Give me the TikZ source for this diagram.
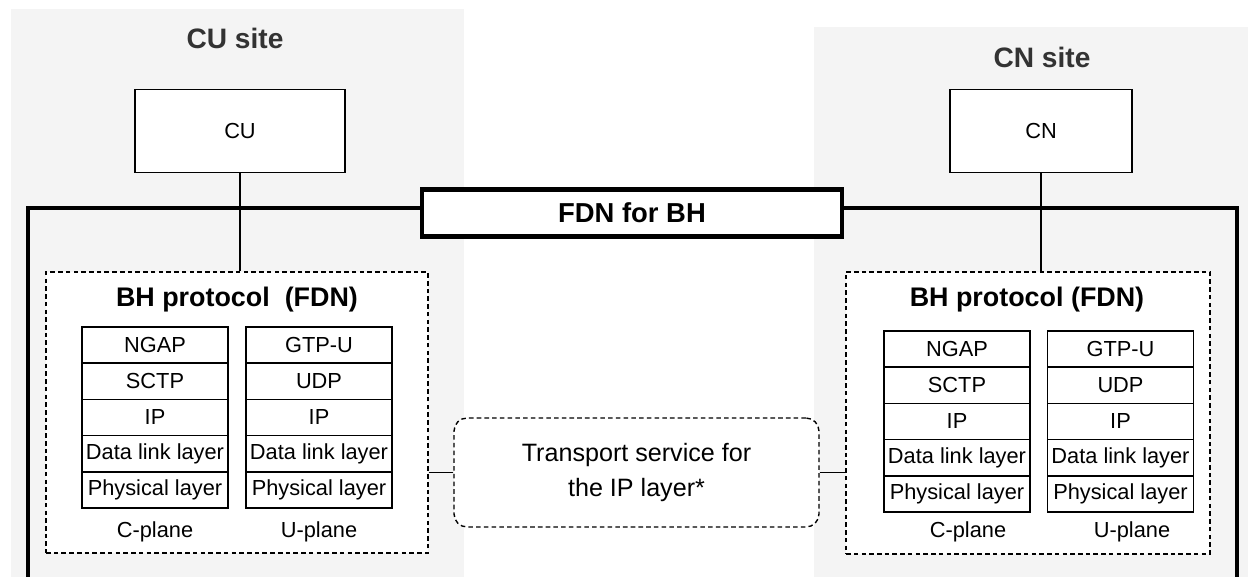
\documentclass[tikz,border=0pt]{standalone}
\usepackage{fontspec}
\setmainfont{Liberation Sans}
\usetikzlibrary{positioning}
\definecolor{sitegray}{HTML}{F4F4F4}
\definecolor{titlegray}{HTML}{333333}
\tikzset{x=0.02cm, y=-0.02cm, % one unit is one pixel of the sketch
site/.style={fill=sitegray, draw=none}, % grey background of a site
sitetitle/.style={text=titlegray, font=\bfseries\fontsize{16}{19}\selectfont},
netbox/.style={draw, line width=0.8pt, fill=white, minimum width=3.64cm, minimum height=1.66cm, font=\fontsize{12.4}{14}\selectfont},
layer/.style={draw, line width=0.8pt, fill=white, minimum width=2.92cm, minimum height=0.725cm, inner sep=0pt, outer sep=0pt, font=\fontsize{12.4}{14}\selectfont},
plane/.style={font=\fontsize{12.4}{14}\selectfont},
protobox/.style={draw, dashed, dash pattern=on 2.6pt off 1.8pt, line width=0.8pt, fill=white, inner sep=0pt},
prototitle/.style={font=\bfseries\fontsize{15.3}{18}\selectfont},
link/.style={line width=0.8pt},
}

\begin{document}
\begin{tikzpicture}
  \useasboundingbox (0,0) rectangle (1248,577);
  % sites
  \fill[site] (11,9) rectangle (464,577);
  \fill[site] (814,27) rectangle (1248,577);
  \node[sitetitle] (cusite) at (235,38) {CU site};
  \node[sitetitle] (cnsite) at (1042,57) {CN site};

  \node[netbox, minimum width=4.2cm] (cu) at (240,131) {CU};
  \node[netbox] (cn) at (1041,131) {CN};

  % FDN frame, open at the bottom
  \draw[line width=2.3pt] (28,577) -- (28,208) -- (1237,208) -- (1237,577);
  \node[draw, line width=2.3pt, fill=white, minimum width=8.4cm, minimum height=0.94cm,
        font=\bfseries\fontsize{15.6}{18}\selectfont] (fdn) at (632,213) {FDN for BH};

  % protocol boxes
  \node[protobox, minimum width=7.64cm, minimum height=5.62cm] (lbox) at (237,412.5) {};
  \node[protobox, minimum width=7.28cm, minimum height=5.64cm] (rbox) at (1028,413) {};
  \node[prototitle] (ltitle) at (237,300) {BH protocol\ \ (FDN)};
  \node[prototitle] (rtitle) at (1027,300) {BH protocol (FDN)};

  % CU side stacks
  \node[layer] (lc1) at (155,345) {NGAP};
  \node[layer, below=0pt of lc1] (lc2) {SCTP};
  \node[layer, below=0pt of lc2] (lc3) {IP};
  \node[layer, below=0pt of lc3] (lc4) {Data link layer};
  \node[layer, below=0pt of lc4] (lc5) {Physical layer};
  \node[layer] (lu1) at (319,345) {GTP-U};
  \node[layer, below=0pt of lu1] (lu2) {UDP};
  \node[layer, below=0pt of lu2] (lu3) {IP};
  \node[layer, below=0pt of lu3] (lu4) {Data link layer};
  \node[layer, below=0pt of lu4] (lu5) {Physical layer};
  \node[plane] (lcp) at (155,532) {C-plane};
  \node[plane] (lup) at (319,532) {U-plane};

  % CN side stacks
  \node[layer] (rc1) at (957,349) {NGAP};
  \node[layer, below=0pt of rc1] (rc2) {SCTP};
  \node[layer, below=0pt of rc2] (rc3) {IP};
  \node[layer, below=0pt of rc3] (rc4) {Data link layer};
  \node[layer, below=0pt of rc4] (rc5) {Physical layer};
  \node[layer] (ru1) at (1120.5,349) {GTP-U};
  \node[layer, below=0pt of ru1] (ru2) {UDP};
  \node[layer, below=0pt of ru2] (ru3) {IP};
  \node[layer, below=0pt of ru3] (ru4) {Data link layer};
  \node[layer, below=0pt of ru4] (ru5) {Physical layer};
  \node[plane] (rcp) at (968,532) {C-plane};
  \node[plane] (rup) at (1132,532) {U-plane};

  % transport service
  \node[protobox, rounded corners=0.26cm, minimum width=7.3cm, minimum height=2.18cm, align=center,
        font=\fontsize{14.3}{20.4}\selectfont] (tsvc) at (636.5,472.5) {Transport service for\\the IP layer*};

  \draw[link] (cu.south) -- (cu.south |- lbox.north);
  \draw[link] (cn.south) -- (cn.south |- rbox.north);
  \draw[link] (tsvc.west) -- (tsvc.west -| lbox.east);
  \draw[link] (tsvc.east) -- (tsvc.east -| rbox.west);
\end{tikzpicture}
\end{document}
